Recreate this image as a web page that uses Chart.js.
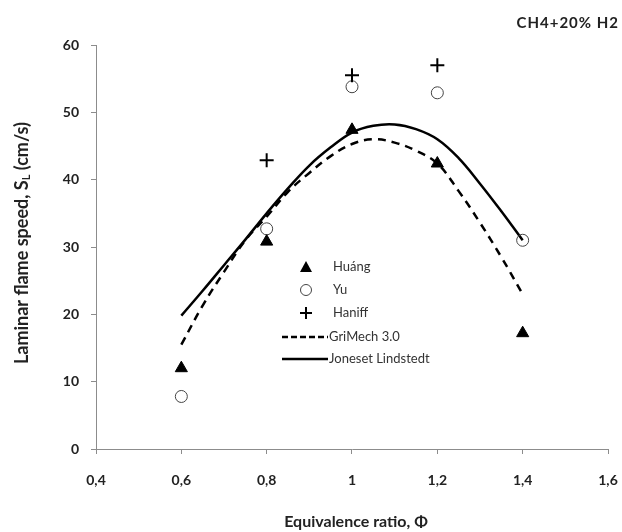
<!DOCTYPE html>
<html>
<head>
<meta charset="utf-8">
<script src="https://cdn.jsdelivr.net/npm/chart.js@4"></script>
<style>
  html, body { margin: 0; padding: 0; background: #fff; }
  #wrap { width: 622px; height: 532px; position: relative; }
</style>
</head>
<body>
<div id="wrap"><canvas id="flameChart"></canvas></div>
<script>
// measured points
const phi = [0.6, 0.8, 1.0, 1.2, 1.4];
const huang = [12.0, 30.8, 47.4, 42.4, 17.2];
const yu = [7.8, 32.7, 53.8, 52.9, 31.0];
const haniffPhi = [0.8, 1.0, 1.2];
const haniff = [42.9, 55.5, 57.0];

// model curves
const curvePhi = [0.6, 0.65, 0.7, 0.75, 0.8, 0.85, 0.9, 0.95, 1.0, 1.05, 1.1, 1.15, 1.2, 1.25, 1.3, 1.35, 1.4];
const griMech = [15.5, 21.3, 26.3, 31.0, 34.5, 38.2, 41.0, 43.5, 45.3, 46.0, 45.5, 44.3, 42.4, 38.3, 33.6, 28.5, 23.0];
const jones = [19.8, 23.5, 27.3, 31.1, 35.0, 38.7, 42.1, 44.8, 47.0, 48.0, 48.2, 47.5, 46.0, 43.2, 39.4, 35.3, 31.0];

const xTicks = [0.4, 0.6, 0.8, 1.0, 1.2, 1.4, 1.6];

const toXY = (xs, ys) => xs.map((x, i) => ({ x: x, y: ys[i] }));
const fontFam = "Lato, 'Open Sans', sans-serif";

// titles and legend drawn on top of the chart
const decorations = {
  id: 'decorations',
  afterDraw(chart) {
    const ctx = chart.ctx;
    ctx.save();
    ctx.fillStyle = '#222';

    // top right label
    ctx.font = "bold 15px " + fontFam;
    ctx.letterSpacing = '1px';
    ctx.textAlign = 'right';
    ctx.textBaseline = 'middle';
    ctx.fillText('CH4+20% H2', 619, 23);
    ctx.letterSpacing = '0px';

    // x title
    ctx.font = "bold 16px " + fontFam;
    ctx.textAlign = 'center';
    ctx.fillText('Equivalence ratio, \u03A6', 356, 522);

    // y title with subscript L
    ctx.translate(22, 243);
    ctx.rotate(-Math.PI / 2);
    const big = "bold 18px " + fontFam, small = "bold 11px " + fontFam;
    const p1 = 'Laminar flame speed, S', p2 = 'L', p3 = ' (cm/s)';
    ctx.font = big; const w1 = ctx.measureText(p1).width, w3 = ctx.measureText(p3).width;
    ctx.font = small; const w2 = ctx.measureText(p2).width;
    let x0 = -(w1 + w2 + w3) / 2;
    ctx.textAlign = 'left';
    ctx.font = big; ctx.fillText(p1, x0, 0);
    ctx.font = small; ctx.fillText(p2, x0 + w1, 4);
    ctx.font = big; ctx.fillText(p3, x0 + w1 + w2, 0);
    ctx.restore();

    // legend
    ctx.save();
    ctx.font = "13px " + fontFam;
    ctx.fillStyle = '#333';
    ctx.textBaseline = 'middle';
    ctx.textAlign = 'left';
    const tx = 333, mx = 306;
    const rows = [267, 290, 313, 337, 359];
    const names = ['Hu\u00e1ng', 'Yu', 'Haniff', 'GriMech 3.0', 'Joneset Lindstedt'];

    ctx.fillStyle = '#000';
    ctx.beginPath();
    ctx.moveTo(mx, rows[0] - 6); ctx.lineTo(mx + 6, rows[0] + 5); ctx.lineTo(mx - 6, rows[0] + 5);
    ctx.closePath(); ctx.fill();

    ctx.strokeStyle = '#444'; ctx.lineWidth = 1;
    ctx.beginPath(); ctx.arc(mx, rows[1], 5.5, 0, Math.PI * 2); ctx.stroke();

    ctx.strokeStyle = '#000'; ctx.lineWidth = 2;
    ctx.beginPath();
    ctx.moveTo(mx - 6, rows[2]); ctx.lineTo(mx + 6, rows[2]);
    ctx.moveTo(mx, rows[2] - 6); ctx.lineTo(mx, rows[2] + 6);
    ctx.stroke();

    ctx.lineWidth = 2.5;
    ctx.setLineDash([6, 3]);
    ctx.beginPath(); ctx.moveTo(282, rows[3]); ctx.lineTo(328, rows[3]); ctx.stroke();
    ctx.setLineDash([]);
    ctx.beginPath(); ctx.moveTo(282, rows[4]); ctx.lineTo(328, rows[4]); ctx.stroke();

    ctx.fillStyle = '#333';
    names.forEach((n, i) => ctx.fillText(n, i < 3 ? tx : 329, rows[i]));
    ctx.restore();
  }
};

new Chart('flameChart', {
  type: 'scatter',
  data: {
    datasets: [{
        label: 'Huang',
        data: toXY(phi, huang),
        pointStyle: 'triangle',
        pointRadius: 7,
        backgroundColor: '#000',
        borderColor: '#000',
        borderWidth: 1,
        order: 1
      },
      {
        label: 'Yu',
        data: toXY(phi, yu),
        pointStyle: 'circle',
        pointRadius: 6,
        backgroundColor: 'rgba(255,255,255,0)',
        borderColor: '#444',
        borderWidth: 1,
        order: 2
      },
      {
        label: 'Haniff',
        data: toXY(haniffPhi, haniff),
        pointStyle: 'cross',
        pointRadius: 7,
        borderColor: '#000',
        borderWidth: 2,
        order: 0
      },
      {
        label: 'GriMech 3.0',
        data: toXY(curvePhi, griMech),
        showLine: true,
        pointRadius: 0,
        borderColor: '#000',
        borderWidth: 2.5,
        borderDash: [8, 6],
        tension: 0.4,
        order: 3
      },
      {
        label: 'Joneset Lindstedt',
        data: toXY(curvePhi, jones),
        showLine: true,
        pointRadius: 0,
        borderColor: '#000',
        borderWidth: 2.5,
        tension: 0.4,
        order: 4
      }
    ]
  },
  options: {
    responsive: true,
    maintainAspectRatio: false,
    animation: false,
    layout: {
      padding: { top: 45, right: 14, left: 0, bottom: 0 }
    },
    plugins: {
      legend: { display: false },
      tooltip: { enabled: false }
    },
    scales: {
      x: {
        type: 'linear',
        min: 0.4,
        max: 1.6,
        afterBuildTicks: (axis) => { axis.ticks = xTicks.map(v => ({ value: v })); },
        afterFit: (axis) => {
          axis.height = 532 - 449;
          axis.paddingLeft = 0;
          axis.paddingRight = 0;
        },
        grid: { drawOnChartArea: false, drawTicks: true, tickLength: 5, color: '#8c8c8c' },
        border: { display: true, color: '#8c8c8c', width: 1 },
        ticks: {
          padding: 18,
          color: '#222',
          font: { family: fontFam, size: 14, weight: 'bold' },
          callback: (v) => String(+v.toFixed(1)).replace('.', ',')
        }
      },
      y: {
        min: 0,
        max: 60,
        afterFit: (axis) => {
          axis.width = 96;
          axis.paddingTop = 0;
          axis.paddingBottom = 0;
        },
        grid: { drawOnChartArea: false, drawTicks: true, tickLength: 5, color: '#8c8c8c' },
        border: { display: true, color: '#8c8c8c', width: 1 },
        ticks: {
          stepSize: 10,
          padding: 12,
          color: '#222',
          font: { family: fontFam, size: 14, weight: 'bold' }
        }
      }
    }
  },
  plugins: [decorations]
});
</script>
</body>
</html>
